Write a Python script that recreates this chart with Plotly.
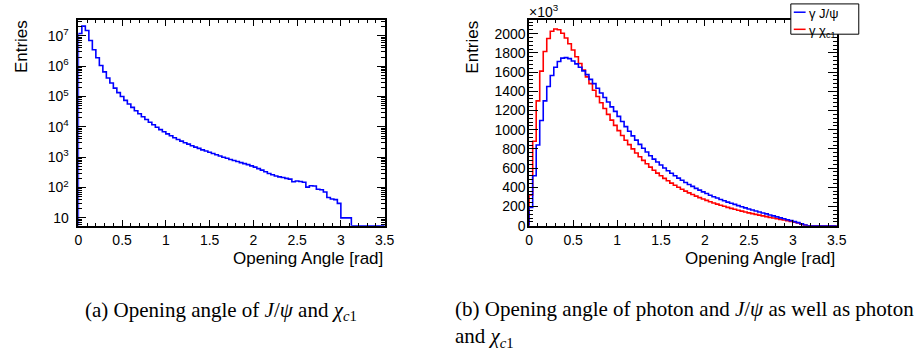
import numpy as np
import plotly.graph_objects as go

# ---------------- data ----------------
bin_width = 0.04
x_ticks = [0, 0.5, 1, 1.5, 2, 2.5, 3, 3.5]

# (a) opening angle J/psi - chi_c1 (entries, log scale)
jpsi_chic1 = [1.2e7, 2.1e7, 1.5e7, 7.0e6, 3.5e6, 1.9e6, 1.05e6, 6.5e5, 4.1e5, 2.8e5,
              1.9e5, 1.35e5, 1.0e5, 7.5e4, 5.7e4, 4.4e4, 3.4e4, 2.7e4, 2.15e4, 1.75e4,
              1.42e4, 1.17e4, 9.7e3, 8.1e3, 6.9e3, 5.9e3, 5.1e3, 4.4e3, 3.85e3, 3.4e3,
              3.0e3, 2.7e3, 2.4e3, 2.15e3, 1.95e3, 1.75e3, 1.6e3, 1.45e3, 1.32e3, 1.2e3,
              1.1e3, 1.0e3, 920, 845, 780, 720, 665, 615, 570, 520,
              470, 420, 375, 330, 290, 265, 240, 225, 215, 200,
              190, 155, 165, 158, 150, 103, 115, 112, 88, 85,
              71, 47, 42, 40, 30, 10, 10, 10, 0, 0,
              0, 0, 0, 0, 0, 0, 0, 0]

# (b) photon - J/psi and photon - chi_c1 (entries x 10^3)
gamma_jpsi = [190, 520, 840, 1095, 1300, 1450, 1565, 1650, 1710, 1745,
              1750, 1740, 1715, 1685, 1650, 1612, 1573, 1524, 1480, 1432,
              1382, 1336, 1288, 1238, 1191, 1139, 1086, 1032, 984, 936,
              891, 847, 806, 768, 729, 694, 663, 632, 601, 573,
              546, 520, 496, 473, 450, 429, 410, 389, 371, 352,
              335, 318, 302, 288, 273, 260, 246, 234, 222, 209,
              198, 186, 174, 164, 153, 143, 133, 123, 111, 102,
              92, 82, 73, 62, 53, 43, 32, 21, 8, 0,
              0, 0, 0, 0, 0, 0, 0, 0]
gamma_chic1 = [320, 880, 1300, 1610, 1815, 1950, 2025, 2048, 2040, 2005,
               1955, 1895, 1830, 1760, 1690, 1620, 1550, 1480, 1410, 1345,
               1280, 1220, 1160, 1100, 1045, 990, 940, 890, 845, 800,
               758, 718, 680, 645, 610, 578, 548, 520, 493, 468,
               444, 421, 400, 380, 360, 342, 325, 308, 293, 278,
               264, 250, 237, 225, 213, 202, 191, 181, 171, 161,
               152, 143, 134, 126, 118, 110, 102, 95, 87, 80,
               73, 66, 59, 52, 45, 37, 28, 16, 4, 0,
               0, 0, 0, 0, 0, 0, 0, 0]

log_ticks = [10, 100, 1e3, 1e4, 1e5, 1e6, 1e7]
log_ticktext = ["10", "10<sup>2</sup>", "10<sup>3</sup>", "10<sup>4</sup>",
                "10<sup>5</sup>", "10<sup>6</sup>", "10<sup>7</sup>"]
lin_ticks = list(range(0, 2001, 200))

# ---------------- layout helpers ----------------
W, H = 919, 350
def px(x):
    return x / W
def py(y):
    return 1 - y / H

LOG_RANGE = [0.742, 7.522]
LIN_RANGE = [0, 2142]
SANS = "Liberation Sans, Arial, sans-serif"
SERIF = "Liberation Serif, Times New Roman, serif"


def step_xy(vals, base):
    edges = np.round(np.arange(len(vals) + 1) * bin_width, 6)
    xs, ys = [edges[0]], [base]
    for i, v in enumerate(vals):
        xs += [edges[i], edges[i + 1]]
        ys += [v, v]
    xs.append(edges[-1])
    ys.append(base)
    return xs, ys


fig = go.Figure()

floor = 10 ** LOG_RANGE[0]
left_vals = [v if v > 0 else floor for v in jpsi_chic1]
xs, ys = step_xy(left_vals, floor)
fig.add_trace(go.Scatter(x=xs, y=ys, mode="lines", line=dict(color="#0000ff", width=1.6),
                         xaxis="x", yaxis="y", showlegend=False, name="J/ψ χc1"))

xs, ys = step_xy(gamma_chic1, 0)
fig.add_trace(go.Scatter(x=xs, y=ys, mode="lines", line=dict(color="#ff0000", width=1.6),
                         xaxis="x2", yaxis="y2", showlegend=False, name="γ χc1"))
xs, ys = step_xy(gamma_jpsi, 0)
fig.add_trace(go.Scatter(x=xs, y=ys, mode="lines", line=dict(color="#0000ff", width=1.6),
                         xaxis="x2", yaxis="y2", showlegend=False, name="γ J/ψ"))

ydom = [py(231), py(20.5)]
xaxis_common = dict(range=[0, 3.5], tickmode="array", tickvals=x_ticks,
                    ticktext=[f"{t:g}" for t in x_ticks],
                    ticks="inside", ticklen=6, tickwidth=1, tickcolor="black",
                    mirror="ticks", showline=True, linecolor="black", linewidth=1.5,
                    showgrid=False, zeroline=False,
                    minor=dict(ticks="inside", ticklen=3, dtick=0.1, tick0=0,
                               tickcolor="black", showgrid=False),
                    tickfont=dict(family=SANS, size=14, color="black"),
                    ticklabelstandoff=1)

fig.update_layout(
    width=W, height=H, margin=dict(l=0, r=0, t=0, b=0),
    paper_bgcolor="white", plot_bgcolor="white", showlegend=False,
    xaxis=dict(domain=[px(75.5), px(386.5)], anchor="y", **xaxis_common),
    xaxis2=dict(domain=[px(533.3), px(845.7)], anchor="y2", **xaxis_common),
    yaxis=dict(domain=ydom, anchor="x", type="log", range=LOG_RANGE,
               tickmode="array", tickvals=log_ticks, ticktext=log_ticktext,
               ticks="inside", ticklen=8, tickwidth=1, tickcolor="black",
               mirror="ticks", showline=True, linecolor="black", linewidth=1.5,
               showgrid=False, zeroline=False,
               minor=dict(ticks="inside", ticklen=4, tickcolor="black",
                          tickvals=[k * 10 ** n for n in range(0, 8) for k in range(2, 10)],
                          showgrid=False),
               tickfont=dict(family=SANS, size=14, color="black"),
               ticklabelstandoff=5),
    yaxis2=dict(domain=ydom, anchor="x2", range=LIN_RANGE,
                tickmode="array", tickvals=lin_ticks, ticktext=[str(t) for t in lin_ticks],
                ticks="inside", ticklen=9, tickwidth=1, tickcolor="black",
                mirror="ticks", showline=True, linecolor="black", linewidth=1.5,
                showgrid=False, zeroline=False,
                minor=dict(ticks="inside", ticklen=4.5, dtick=40, tick0=0,
                           tickcolor="black", showgrid=False),
                tickfont=dict(family=SANS, size=14, color="black"),
                ticklabelstandoff=-1),
)

ann = []
for xc in (18.5, 476):
    ann.append(dict(text="Entries", x=px(xc), y=py(48), xref="paper", yref="paper",
                    xanchor="center", yanchor="middle", textangle=-90, showarrow=False,
                    font=dict(family=SANS, size=17, color="black")))
for xr in (387, 846):
    ann.append(dict(text="Opening Angle [rad]", x=px(xr), y=py(253), xref="paper", yref="paper",
                    xanchor="right", yanchor="top", showarrow=False,
                    font=dict(family=SANS, size=17, color="black")))
ann.append(dict(text="×10<sup>3</sup>", x=px(531), y=py(23), xref="paper", yref="paper",
                xanchor="left", yanchor="bottom", showarrow=False,
                font=dict(family=SANS, size=14, color="black")))
# legend
ann.append(dict(text="γ J/ψ", x=px(815), y=py(13.5), xref="paper", yref="paper",
                xanchor="left", yanchor="middle", showarrow=False,
                font=dict(family=SANS, size=13, color="black")))
ann.append(dict(text="γ χ<sub>c1</sub>", x=px(815), y=py(32.5), xref="paper", yref="paper",
                xanchor="left", yanchor="middle", showarrow=False,
                font=dict(family=SANS, size=13, color="black")))
# captions
ann.append(dict(text="(a) Opening angle of <i>J</i>/<i>ψ</i> and <i>χ</i><sub><i>c</i>1</sub>",
                x=px(80), y=py(303), xref="paper", yref="paper", align="left",
                xanchor="left", yanchor="top", showarrow=False,
                font=dict(family=SERIF, size=21, color="black")))
ann.append(dict(text="(b) Opening angle of photon and <i>J</i>/<i>ψ</i> as well as photon<br>and <i>χ</i><sub><i>c</i>1</sub>",
                x=px(456), y=py(302), xref="paper", yref="paper", align="left",
                xanchor="left", yanchor="top", showarrow=False,
                font=dict(family=SERIF, size=21, color="black")))
fig.update_layout(annotations=ann)

shapes = [
    dict(type="rect", xref="paper", yref="paper", x0=px(799), x1=px(868), y0=py(35), y1=py(4),
         line=dict(color="black", width=1), fillcolor="white", layer="above"),
    dict(type="line", xref="paper", yref="paper", x0=px(802), x1=px(814), y0=py(12.5), y1=py(12.5),
         line=dict(color="#0000ff", width=1.5), layer="above"),
    dict(type="line", xref="paper", yref="paper", x0=px(802), x1=px(814), y0=py(30), y1=py(30),
         line=dict(color="#ff0000", width=1.5), layer="above"),
]
fig.update_layout(shapes=shapes)

fig.write_html("out.html")
